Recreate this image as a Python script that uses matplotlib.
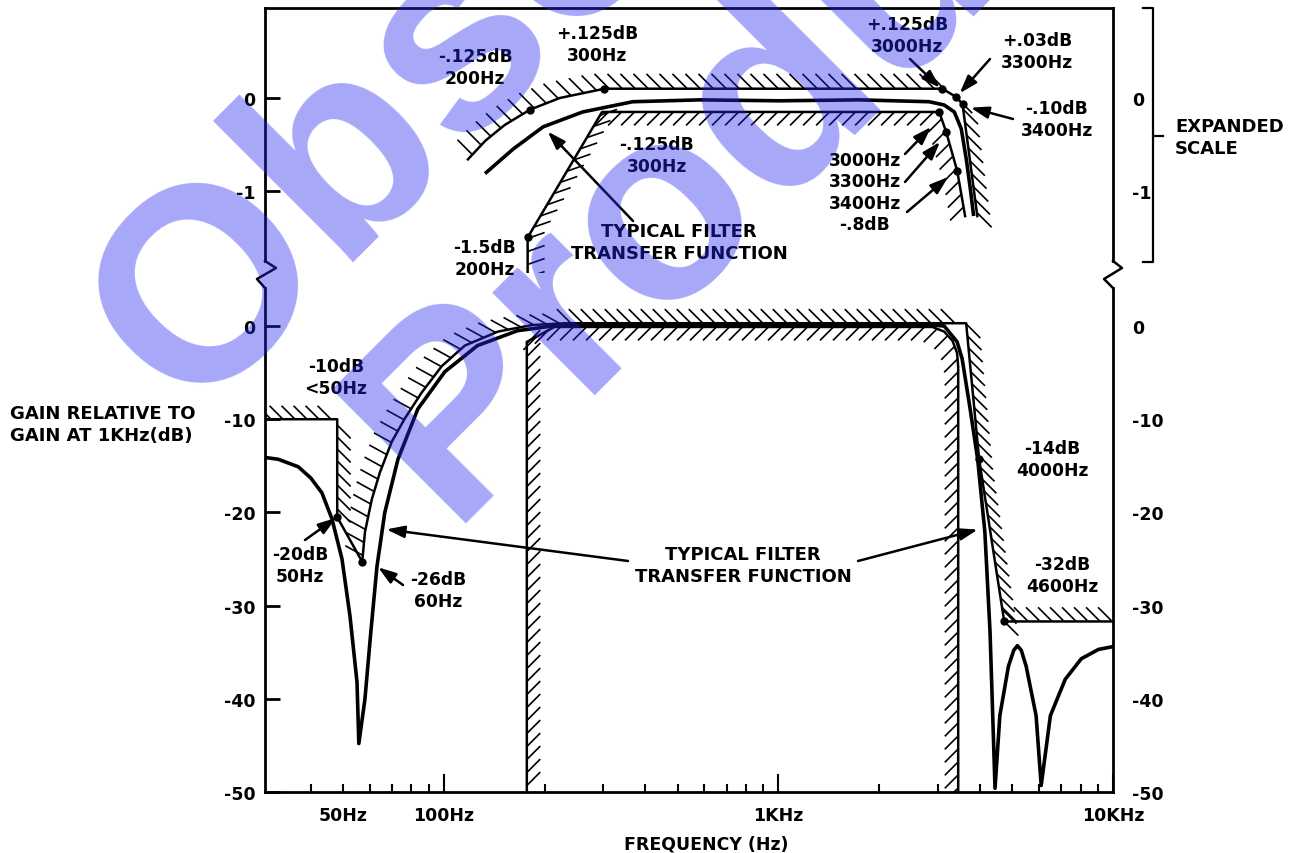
import numpy as np
import matplotlib
matplotlib.use("Agg")
import matplotlib.pyplot as plt
from matplotlib.collections import LineCollection
from matplotlib.lines import Line2D

plt.rcParams["font.family"] = ["DejaVu Sans"]
plt.rcParams["font.weight"] = "bold"

W, H = 1299, 854

# ---- expanded scale (upper panel), Hz / dB ----
up_outer_f = [118, 133, 152, 181, 222, 302, 3090, 3400, 3550, 3930]
up_outer_db = [-0.66, -0.46, -0.29, -0.125, 0.0, 0.1, 0.1, 0.01, -0.065, -1.27]
up_inner_f = [178, 178, 297, 3025, 3175, 3423, 3614]
up_inner_db = [-2.0, -1.5, -0.15, -0.15, -0.37, -0.785, -1.27]
up_typ_f = [134, 161, 198, 260, 367, 581, 1007, 1745, 2822, 3128, 3354, 3519, 3644, 3747, 3827]
up_typ_db = [-0.8, -0.55, -0.31, -0.15, -0.04, -0.02, -0.03, -0.02, -0.04, -0.075, -0.15, -0.33, -0.66, -0.98, -1.25]
up_dot_f = [181, 302, 3090, 3400, 3550, 178, 3025, 3175, 3423]
up_dot_db = [-0.125, 0.1, 0.1, 0.01, -0.065, -1.5, -0.15, -0.37, -0.785]

# ---- main scale (lower panel), Hz / dB ----
lo_stop_f = [29.2, 48, 48, 57]
lo_stop_db = [-10, -10, -20.5, -25.3]
lo_outer_f = [57, 58.1, 60.9, 64.4, 69.9, 76.5, 86.0, 98.6, 115.5, 145, 183, 230, 280, 3640, 3980, 4730, 10000]
lo_outer_db = [-25.3, -22.1, -18.6, -15.7, -12.4, -9.9, -7.1, -4.3, -2.1, -0.6, 0.1, 0.3, 0.3, 0.3, -14.3, -31.7, -31.7]
lo_inner_f = [177, 177, 214, 2885, 3130, 3315, 3420, 3446, 3446]
lo_inner_db = [-50, -1.7, -0.1, -0.1, -0.6, -1.6, -2.9, -4.4, -50]
lo_typ_f = [29.2, 32, 36.7, 40, 43.2, 46.3, 49.6, 52.4, 55.0, 55.7, 58.1, 60.5, 63.1, 66.6, 72.9, 83.6,
            100.7, 126, 166, 222, 1000, 2900, 3130, 3420, 3540, 3730, 3940, 4140, 4290, 4380,
            4440, 4590, 4870, 5050, 5180, 5320, 5500, 5890, 6100, 6500, 7200, 8040, 9050, 10000]
lo_typ_db = [-14.1, -14.3, -15.1, -16.3, -17.9, -20.7, -25.0, -31.1, -38.2, -44.8, -40.0, -32.8, -25.8, -20.0, -14.3, -8.9,
             -4.9, -2.1, -0.5, 0.1, 0.1, 0.1, 0.0, -1.7, -3.5, -8.6, -14.3, -22.1, -32.8, -42.9,
             -49.6, -41.8, -36.5, -34.8, -34.3, -34.8, -36.5, -41.8, -49.3, -41.8, -37.9, -35.7, -34.7, -34.4]
lo_dot_f = [48, 57, 3980, 4730]
lo_dot_db = [-20.5, -25.3, -14.3, -31.7]

up_yticks = [0, -1]
lo_yticks = [0, -10, -20, -30, -40, -50]
x_major = [100, 1000, 10000]
x_major_lbl = ["100Hz", "1KHz", "10KHz"]
x_minor = [40, 50, 60, 70, 80, 90, 200, 300, 400, 500, 600, 700, 800, 900,
           2000, 3000, 4000, 5000, 6000, 7000, 8000, 9000]
x_minor_lbl = ["50Hz" if v == 50 else "" for v in x_minor]


def fx(x):
    return x / W


def fy(y):
    return 1 - y / H


def hatch(ax, f, db, d, side, step=12.0, length=19.0, lw=1.2):
    # short slanted strokes along a boundary, on one side of it
    pts = ax.transData.transform(np.column_stack([f, db]))
    seg = np.diff(pts, axis=0)
    L = np.hypot(seg[:, 0], seg[:, 1])
    cum = np.concatenate([[0], np.cumsum(L)])
    d = np.asarray(d, float)
    d = d / np.hypot(*d)
    lines = []
    for s in np.arange(step * 0.5, cum[-1], step):
        i = min(np.searchsorted(cum, s, side="right") - 1, len(L) - 1)
        if L[i] == 0:
            continue
        t = seg[i] / L[i]
        p = pts[i] + t * (s - cum[i])
        n = side * np.array([-t[1], t[0]])
        v = d if d @ n >= 0 else -d
        lines.append([p, p + v * length])
    lines = np.array(lines)
    inv = ax.transData.inverted()
    data = inv.transform(lines.reshape(-1, 2)).reshape(-1, 2, 2)
    ax.add_collection(LineCollection(data, colors="black", linewidths=lw, zorder=2))


fig = plt.figure(figsize=(W / 100, H / 100), dpi=100)
ax_top = fig.add_axes([fx(265), fy(274), (1113 - 265) / W, (274 - 9) / H])
ax_bot = fig.add_axes([fx(265), fy(793), (1113 - 265) / W, (793 - 274) / H])

for ax in (ax_top, ax_bot):
    ax.set_xscale("log")
    ax.set_xlim(29.2, 10000)
    for sp in ax.spines.values():
        sp.set_linewidth(2.0)
ax_top.set_ylim(-1.882, 0.968)
ax_bot.set_ylim(-50, 5.69)

ax_top.spines["bottom"].set_visible(False)
ax_bot.spines["top"].set_visible(False)
ax_top.spines["left"].set_bounds(-1.75, 0.968)
ax_top.spines["right"].set_bounds(-1.75, 0.968)
ax_bot.spines["left"].set_bounds(-50, 4.1)
ax_bot.spines["right"].set_bounds(-50, 4.1)

# y ticks, left labels on main axes, right labels on twins
for ax, ticks in ((ax_top, up_yticks), (ax_bot, lo_yticks)):
    ax.set_yticks(ticks)
    ax.set_yticklabels([str(t) for t in ticks])
    ax.tick_params(axis="y", direction="in", length=11, width=2, left=True, right=True,
                   labelleft=True, labelright=False, labelsize=12.5, pad=7)
    tw = ax.twinx()
    tw.set_ylim(ax.get_ylim())
    tw.set_yticks(ticks)
    tw.set_yticklabels([str(t) for t in ticks])
    tw.tick_params(axis="y", direction="in", length=0, labelsize=12.5, pad=14)
    for sp in tw.spines.values():
        sp.set_visible(False)

ax_top.tick_params(axis="x", which="both", bottom=False, labelbottom=False)
ax_bot.set_xticks(x_major)
ax_bot.set_xticklabels(x_major_lbl)
ax_bot.set_xticks(x_minor, minor=True)
ax_bot.set_xticklabels(x_minor_lbl, minor=True)
ax_bot.tick_params(axis="x", which="major", direction="in", length=13, width=1.5, labelsize=12.5, pad=10)
ax_bot.tick_params(axis="x", which="minor", direction="in", length=6, width=1.5, labelsize=12.5, pad=10)

# ---- upper panel ----
ax_top.plot(up_outer_f, up_outer_db, color="black", lw=1.8, zorder=3)
ax_top.plot(up_inner_f, up_inner_db, color="black", lw=1.8, zorder=3)
ax_top.plot(up_typ_f, up_typ_db, color="black", lw=2.6, zorder=3)
ax_top.plot(up_dot_f, up_dot_db, "o", color="black", ms=5, zorder=4)
hatch(ax_top, up_outer_f, up_outer_db, (-1, 1), 1, step=13, length=21)
hatch(ax_top, up_inner_f[:3], up_inner_db[:3], (1, 0.35), -1, step=13, length=18)
hatch(ax_top, up_inner_f[2:], up_inner_db[2:], (1, 1), -1, step=13, length=19)

# ---- lower panel ----
ax_bot.plot(lo_stop_f, lo_stop_db, color="black", lw=1.8, zorder=3)
ax_bot.plot(lo_outer_f, lo_outer_db, color="black", lw=1.8, zorder=3)
ax_bot.plot(lo_inner_f, lo_inner_db, color="black", lw=1.8, zorder=3)
ax_bot.plot(lo_typ_f, lo_typ_db, color="black", lw=2.6, zorder=3)
ax_bot.plot(lo_dot_f, lo_dot_db, "o", color="black", ms=5, zorder=4)
hatch(ax_bot, lo_stop_f[:3], lo_stop_db[:3], (-1, 1), 1, step=12, length=19)
hatch(ax_bot, lo_outer_f[:12], lo_outer_db[:12], (-1, 0.55), 1, step=13, length=20)
hatch(ax_bot, lo_outer_f[11:], lo_outer_db[11:], (-1, 1), 1, step=12, length=20)
hatch(ax_bot, lo_inner_f, lo_inner_db, (1, 1), -1, step=13, length=19)

# ---- axis breaks and bracket ----
for xs in ([265, 276, 257, 265], [1113, 1122, 1104, 1113]):
    ys = [262, 269, 280, 289]
    fig.add_artist(Line2D([fx(v) for v in xs], [fy(v) for v in ys], color="black", lw=1.8))
fig.add_artist(Line2D([fx(1143), fx(1153), fx(1153), fx(1143)], [fy(9), fy(9), fy(263), fy(263)],
                      color="black", lw=1.6))
fig.add_artist(Line2D([fx(1153), fx(1163)], [fy(137), fy(137)], color="black", lw=1.6))

# ---- text ----
fig.text(fx(1175), fy(138), "EXPANDED\nSCALE", ha="left", va="center", fontsize=13, linespacing=1.25)
fig.text(fx(10), fy(425), "GAIN RELATIVE TO\nGAIN AT 1KHz(dB)", ha="left", va="center",
         fontsize=13, linespacing=1.25)
fig.text(fx(706), fy(845), "FREQUENCY (Hz)", ha="center", va="center", fontsize=12.5)

notes = [
    ("-.125dB\n200Hz", 475, 68),
    ("+.125dB\n300Hz", 597, 45),
    ("-.125dB\n300Hz", 657, 156),
    ("-1.5dB\n200Hz", 485, 259),
    ("+.125dB\n3000Hz", 907, 36),
    ("+.03dB\n3300Hz", 1037, 52),
    ("-.10dB\n3400Hz", 1057, 120),
    ("3000Hz\n3300Hz\n3400Hz\n-.8dB", 865, 193),
    ("-10dB\n<50Hz", 336, 378),
    ("-20dB\n50Hz", 300, 566),
    ("-26dB\n60Hz", 438, 591),
    ("-14dB\n4000Hz", 1052, 460),
    ("-32dB\n4600Hz", 1062, 576),
]
for s, x, y in notes:
    fig.text(fx(x), fy(y), s, ha="center", va="center", fontsize=12.3, linespacing=1.25)
for x, y in ((679, 243), (743, 566)):
    fig.text(fx(x), fy(y), "TYPICAL FILTER\nTRANSFER FUNCTION", ha="center", va="center",
             fontsize=13, linespacing=1.3)

arrows = [
    (ax_top, (203, -0.35), (633, 222)),
    (ax_top, (3060, 0.1), (910, 60)),
    (ax_top, (3460, 0.04), (990, 60)),
    (ax_top, (3720, -0.1), (1013, 120)),
    (ax_top, (2880, -0.3), (905, 155)),
    (ax_top, (3060, -0.46), (905, 183)),
    (ax_top, (3240, -0.84), (907, 213)),
    (ax_bot, (48, -20.5), (305, 541)),
    (ax_bot, (63.1, -25.8), (403, 586)),
    (ax_bot, (66.7, -21.8), (628, 562)),
    (ax_bot, (3980, -21.8), (858, 562)),
]
for ax, tip, start in arrows:
    ax.annotate("", xy=tip, xycoords="data", xytext=(start[0], H - start[1]),
                textcoords="figure pixels", annotation_clip=False,
                arrowprops=dict(arrowstyle="-|>,head_length=0.9,head_width=0.3", color="black",
                                lw=1.8, shrinkA=0, shrinkB=1, mutation_scale=12))

# ---- watermark ----
for s, x, y in (("Obsolete", 188, 417), ("Product(s)", 448, 524)):
    fig.text(fx(x), fy(y), s, rotation=45, rotation_mode="anchor", ha="left", va="baseline",
             fontsize=197, family="Liberation Sans", weight="bold", color="#2424f0", alpha=0.4,
             zorder=100)

fig.savefig("out.png", dpi=100)
